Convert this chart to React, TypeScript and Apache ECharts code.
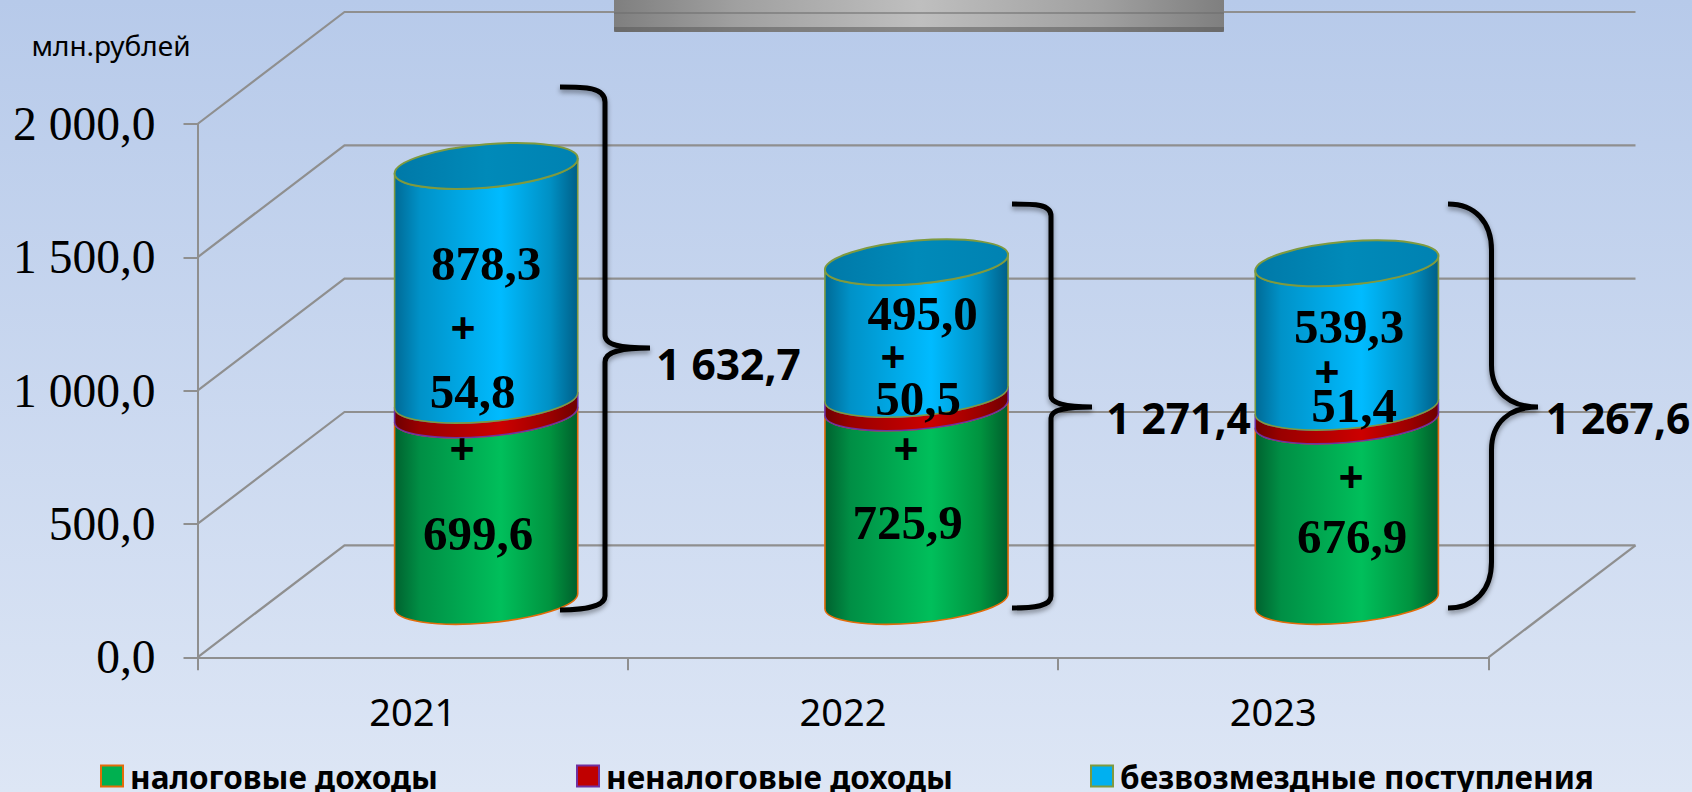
import React, { useEffect, useRef } from "react";
import * as echarts from "echarts";

const categories = ["2021", "2022", "2023"];
const taxIncome = [699.6, 725.9, 676.9];
const nonTaxIncome = [54.8, 50.5, 51.4];
const grants = [878.3, 495.0, 539.3];
const totals = ["1 632,7", "1 271,4", "1 267,6"];
const valueTicks = [0, 500, 1000, 1500, 2000];
const seriesNames = ["налоговые доходы", "неналоговые доходы", "безвозмездные поступления"];
const unitLabel = "млн.рублей";

// layout (pixels on the page)
const W = 1692, H = 792;
const GRID = { left: 197.5, right: 203.5, top: 124, height: 533.3 };
const DEPTH_X = 147, DEPTH_Y = 112;
const RADIUS_RATIO = 0.2128, SHEAR = 7.5, MINOR = 21.7, K = 0.5523;
const SERIF = "'Liberation Serif', serif";
const SANS = "'Noto Sans', sans-serif";

const fmt = (v: number) => v.toFixed(1).replace(".", ",");
const fmtAxis = (v: number) => {
  const s = v.toFixed(1).replace(".", ",");
  return v >= 1000 ? s[0] + " " + s.slice(1) : s;
};

const labelCenters = [
  [[478, 533], [907.5, 522], [1352, 536]],
  [[472.6, 391], [918, 398], [1354, 405]],
  [[486, 263], [922.5, 313], [1349, 326]],
];
const plusUpper = [[463, 327], [893, 356], [1327, 371]];
const plusLower = [[462, 448], [906, 448], [1351, 476]];
const totalCenters = [[728.5, 363], [1178.5, 417], [1618, 417]];

const braces = [
  "M560,87 C585,87 605,87 605,102 L605,335 C605,345 620,348 650,348 C620,348 605,352 605,362 L605,596 C605,606 585,610 560,610",
  "M1012,204 C1035,204 1051,204 1051,216 L1051,396 C1051,403 1065,407 1092,407 C1065,407 1051,410 1051,418 L1051,596 C1051,606 1035,608 1012,608",
  "M1448,204 C1475,204 1491.5,222 1491.5,250 L1491.5,365 C1491.5,392 1510,407 1538,407 C1510,407 1491.5,422 1491.5,450 L1491.5,562 C1491.5,590 1475,608 1448,608",
];
braces.forEach((d, i) => {
  echarts.graphic.registerShape("brace" + i, echarts.graphic.extendPath(d as any, {}) as any);
});

const hGrad = (stops: [number, string][]) => ({
  type: "linear", x: 0, y: 0, x2: 1, y2: 0,
  colorStops: stops.map(([offset, color]) => ({ offset, color })),
});

const palettes = [
  { fill: hGrad([[0, "#00622f"], [0.14, "#008f45"], [0.58, "#00bf5b"], [0.85, "#00933f"], [1, "#005f2c"]]), border: "#e36c0a", base: "#00b050" },
  { fill: hGrad([[0, "#6e0000"], [0.14, "#9a0000"], [0.58, "#cc0000"], [0.85, "#9a0000"], [1, "#6e0000"]]), border: "#7030a0", base: "#c00000" },
  { fill: hGrad([[0, "#006a96"], [0.14, "#0092c8"], [0.58, "#00bbff"], [0.85, "#0090c4"], [1, "#005f88"]]), border: "#7f9a3f", base: "#00b0f0" },
];

const p = (x: number, y: number) => `${x.toFixed(2)},${y.toFixed(2)}`;
const k1 = (b: number) => b * K;

// front half of the sheared ellipse, left to right or right to left
const frontArc = (cx: number, cy: number, a: number, reverse: boolean) => {
  const s = SHEAR, b = MINOR;
  if (!reverse) {
    return `C${p(cx + a, cy - s + k1(b))} ${p(cx + a * K, cy - s * K + b)} ${p(cx, cy + b)} ` +
      `C${p(cx - a * K, cy + s * K + b)} ${p(cx - a, cy + s + k1(b))} ${p(cx - a, cy + s)}`;
  }
  return `C${p(cx - a, cy + s + k1(b))} ${p(cx - a * K, cy + s * K + b)} ${p(cx, cy + b)} ` +
    `C${p(cx + a * K, cy - s * K + b)} ${p(cx + a, cy - s + k1(b))} ${p(cx + a, cy - s)}`;
};
const backArc = (cx: number, cy: number, a: number) => {
  const s = SHEAR, b = MINOR;
  return `C${p(cx - a, cy + s - b * K)} ${p(cx - a * K, cy + s * K - b)} ${p(cx, cy - b)} ` +
    `C${p(cx + a * K, cy - s * K - b)} ${p(cx + a, cy - s - b * K)} ${p(cx + a, cy - s)}`;
};

const renderSegment = (seriesIdx: number, withCap: boolean) => (params: any, api: any) => {
  const cat = api.value(0);
  const lo = api.coord([cat, api.value(1)]);
  const hi = api.coord([cat, api.value(2)]);
  const band = api.size([1, 0])[0];
  const a = band * RADIUS_RATIO;
  const cx = lo[0] + DEPTH_X / 2;
  const yLo = lo[1] - DEPTH_Y / 2;
  const yHi = hi[1] - DEPTH_Y / 2;
  const body =
    `M${p(cx + a, yHi - SHEAR)} L${p(cx + a, yLo - SHEAR)} ` +
    frontArc(cx, yLo, a, false) +
    ` L${p(cx - a, yHi + SHEAR)} ` +
    frontArc(cx, yHi, a, true) + " Z";
  const pal = palettes[seriesIdx];
  const children: any[] = [
    {
      type: "path",
      shape: { pathData: body },
      style: { fill: pal.fill, stroke: pal.border, lineWidth: 1.6, lineJoin: "round" },
    },
  ];
  if (withCap) {
    const cap =
      `M${p(cx - a, yHi + SHEAR)} ` + backArc(cx, yHi, a) + " " + frontArc(cx, yHi, a, false) + " Z";
    children.push({
      type: "path",
      shape: { pathData: cap },
      style: {
        fill: hGrad([[0, "#0079a8"], [0.5, "#008ab9"], [1, "#0082b2"]]),
        stroke: pal.border,
        lineWidth: 2,
      },
    });
  }
  return { type: "group", children };
};

const renderWalls = (params: any, api: any) => {
  const cs = params.coordSys;
  const tick = api.value(0);
  const y = api.coord([0, tick])[1];
  const x0 = cs.x, x1 = cs.x + cs.width;
  const lineStyle = { stroke: "#8f8f8f", lineWidth: 2.2, fill: "none" };
  const children: any[] = [
    {
      type: "polyline",
      shape: { points: [[x0, y], [x0 + DEPTH_X, y - DEPTH_Y], [x1 + DEPTH_X, y - DEPTH_Y]] },
      style: lineStyle,
    },
  ];
  if (tick === 0) {
    children.push({
      type: "line",
      shape: { x1, y1: y, x2: x1 + DEPTH_X, y2: y - DEPTH_Y },
      style: lineStyle,
    });
  }
  return { type: "group", children };
};

const stacks = categories.map((_, i) => {
  const a = taxIncome[i], b = a + nonTaxIncome[i], c = b + grants[i];
  return [[i, 0, a], [i, a, b], [i, b, c]];
});

const legendAt = (name: string, left: number, border: string, color: string) => ({
  data: [name],
  left,
  top: 760,
  orient: "horizontal",
  selectedMode: false,
  itemWidth: 22,
  itemHeight: 21,
  icon: "rect",
  padding: 0,
  itemStyle: { color, borderColor: border, borderWidth: 2 },
  textStyle: {
    fontFamily: SANS, fontWeight: "bold", fontSize: 31.5, color: "#000",
    padding: [0, 0, 0, 2],
  },
});

const textEl = (text: string, c: number[], font: string, size: number, weight = "bold") => ({
  type: "text",
  x: c[0],
  y: c[1],
  z: 50,
  style: {
    text,
    fontFamily: font,
    fontSize: size,
    fontWeight: weight,
    fill: "#000",
    align: "center",
    verticalAlign: "middle",
  },
});

export default function App() {
  const ref = useRef<HTMLDivElement>(null);
  useEffect(() => {
    document.body.style.margin = "0";
    const chart = echarts.init(ref.current!, null, { renderer: "svg" });
    const graphicEls: any[] = [
      {
        type: "rect", z: 40,
        shape: { x: 614, y: 0, width: 610, height: 32, r: [0, 0, 2, 2] },
        style: { fill: hGrad([[0, "#7f7f7f"], [0.2, "#a0a0a0"], [0.5, "#bfbfbf"], [0.8, "#a0a0a0"], [1, "#7f7f7f"]]) },
      },
      {
        type: "rect", z: 41,
        shape: { x: 614, y: 27, width: 610, height: 5 },
        style: { fill: "rgba(90,90,90,0.55)" },
      },
      {
        type: "line", z: 41,
        shape: { x1: 614, y1: 13, x2: 1224, y2: 13 },
        style: { stroke: "rgba(110,110,110,0.55)", lineWidth: 2 },
      },
      textEl(unitLabel, [111, 45], SANS, 28, "normal"),
    ];
    braces.forEach((_, i) => {
      graphicEls.push({
        type: "brace" + i, x: 0, y: 0, z: 45,
        style: {
          fill: "none", stroke: "#000", lineWidth: 5,
          shadowBlur: 5, shadowOffsetY: 3, shadowColor: "rgba(0,0,0,0.4)",
        },
      });
    });
    [taxIncome, nonTaxIncome, grants].forEach((arr, s) => {
      arr.forEach((v, i) => graphicEls.push(textEl(fmt(v), labelCenters[s][i], SERIF, 49)));
    });
    categories.forEach((_, i) => {
      graphicEls.push(textEl("+", plusUpper[i], SANS, 44));
      graphicEls.push(textEl("+", plusLower[i], SANS, 44));
      graphicEls.push(textEl(totals[i], totalCenters[i], SANS, 42.5));
    });

    chart.setOption({
      animation: false,
      backgroundColor: {
        type: "linear", x: 0, y: 0, x2: 0, y2: 1,
        colorStops: [{ offset: 0, color: "#b7caea" }, { offset: 1, color: "#dde6f5" }],
      },
      grid: { ...GRID, containLabel: false },
      legend: [
        legendAt(seriesNames[0], 100, palettes[0].border, palettes[0].base),
        legendAt(seriesNames[1], 576, palettes[1].border, palettes[1].base),
        legendAt(seriesNames[2], 1090, palettes[2].border, palettes[2].base),
      ],
      xAxis: {
        type: "category",
        data: categories,
        boundaryGap: true,
        axisLine: { show: true, lineStyle: { color: "#8f8f8f", width: 2 } },
        axisTick: { show: true, length: 13, alignWithLabel: false, lineStyle: { color: "#8f8f8f", width: 2 } },
        axisLabel: { margin: 35, fontFamily: SANS, fontSize: 38, color: "#000" },
      },
      yAxis: {
        type: "value",
        min: 0,
        max: 2000,
        interval: 500,
        splitLine: { show: false },
        axisLine: { show: true, lineStyle: { color: "#8f8f8f", width: 2 } },
        axisTick: { show: true, length: 14, lineStyle: { color: "#8f8f8f", width: 2 } },
        axisLabel: {
          margin: 42, fontFamily: SERIF, fontSize: 47.5, color: "#000",
          formatter: (v: number) => fmtAxis(v),
        },
      },
      graphic: { elements: graphicEls },
      series: [
        {
          type: "custom", name: "walls", silent: true, clip: false, z: 1,
          data: valueTicks.map((t) => [t]),
          renderItem: renderWalls,
          encode: { y: 0 },
        },
        ...seriesNames.map((name, s) => ({
          type: "custom",
          name,
          clip: false,
          z: 3 + s,
          itemStyle: { color: palettes[s].base },
          data: stacks.map((st) => st[s]),
          renderItem: renderSegment(s, s === 2),
          encode: { x: 0, y: [1, 2] },
        })),
      ],
    });
    return () => chart.dispose();
  }, []);
  return <div ref={ref} style={{ width: W, height: H }} />;
}
